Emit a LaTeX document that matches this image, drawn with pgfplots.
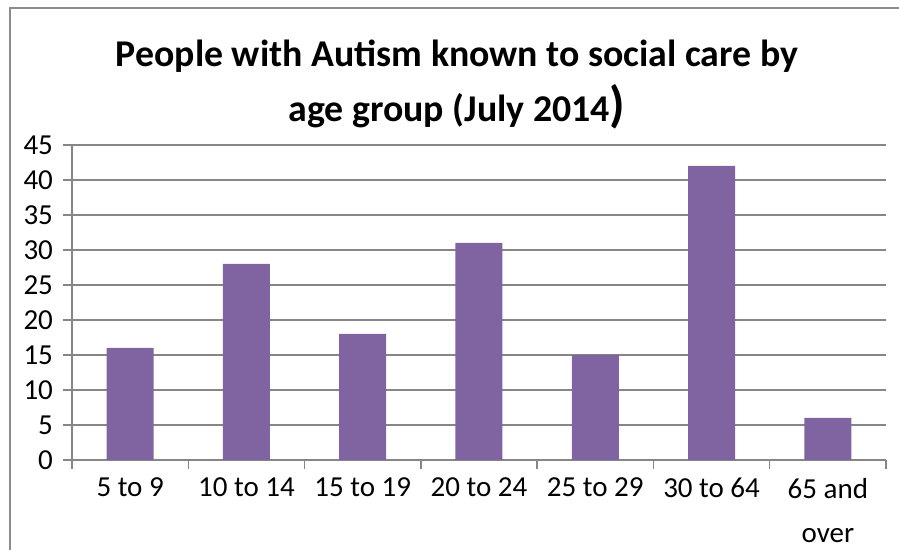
\documentclass[border=0pt]{standalone}
\usepackage{fontspec}
\setmainfont{Carlito}
\usepackage{pgfplots}
\pgfplotsset{compat=1.18}
\definecolor{barpurple}{HTML}{8064A2}
\definecolor{gridgray}{HTML}{868686}
\definecolor{framegray}{HTML}{8C8C8C}

\begin{document}
\begin{tikzpicture}
% picture is 899x550 px, 1 px = 0.5pt, origin at the axis' lower left corner
\useasboundingbox (-36pt,-45pt) rectangle (413.5pt,230pt);
\draw[framegray, line width=0.75pt] (-31pt,-50pt) -- (-31pt,226pt) -- (420pt,226pt);

\begin{axis}[
  at={(0,0)}, anchor=south west,
  scale only axis, width=407pt, height=157.5pt,
  ymin=0, ymax=45, ytick={0,5,...,45},
  xmin=-0.5, xmax=6.5,
  xtick={-0.5,0.5,...,6.5},
  xticklabels={5 to 9,10 to 14,15 to 19,20 to 24,25 to 29,30 to 64,{65 and\\over}},
  x tick label as interval,
  axis x line*=bottom, axis y line*=left,
  axis line style={gridgray, line width=0.75pt},
  tick align=outside, major tick length=4.5pt,
  tick style={gridgray, line width=0.75pt},
  ymajorgrids, grid style={gridgray, line width=0.75pt},
  ybar, bar width=23.5pt,
  ticklabel style={font=\fontsize{14.5}{22}\selectfont, text=black},
  xticklabel style={align=center, yshift=-1pt},
  yticklabel style={xshift=-1.5pt},
  /pgf/number format/assume math mode=true,
]
\addplot[fill=barpurple, draw=none] coordinates {
  (0,16) (1,28) (2,18) (3,31) (4,15) (5,42) (6,6)};
\end{axis}

\node[anchor=base, font=\bfseries\fontsize{18.9}{22}\selectfont] at (192.5pt,196.5pt)
  {People with Autism known to social care by};
\node[anchor=base, font=\bfseries\fontsize{18.9}{22}\selectfont] at (192.5pt,169pt)
  {age group (July 2014{\fontsize{25}{28}\selectfont)}};
\end{tikzpicture}
\end{document}
